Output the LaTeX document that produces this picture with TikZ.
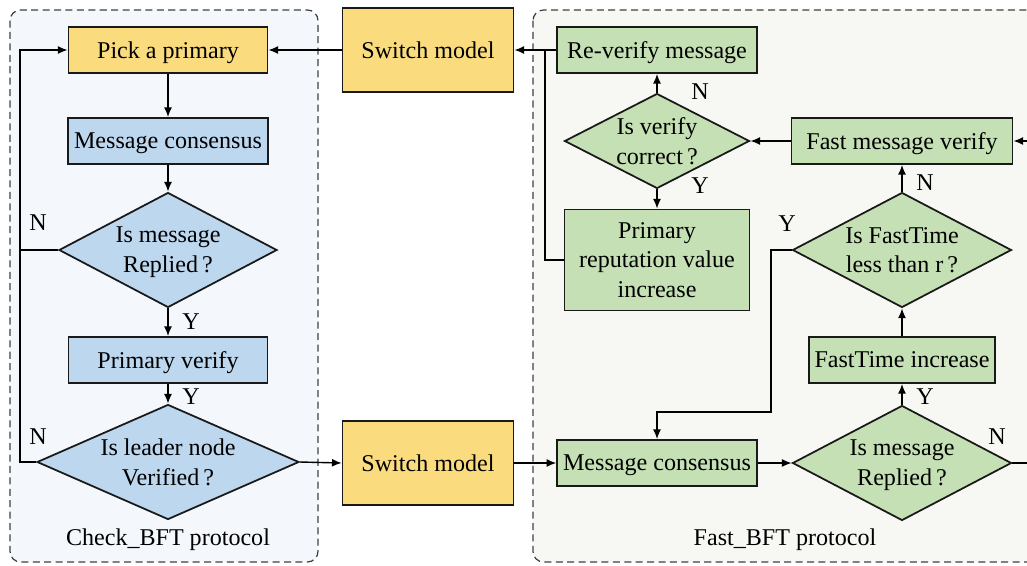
\documentclass[tikz,border=0pt]{standalone}
\usepackage{fontspec}
\setmainfont{Liberation Serif}
\usetikzlibrary{arrows.meta,positioning,shapes.geometric}
\definecolor{pickyellow}{HTML}{FADC7E}
\definecolor{checkblue}{HTML}{BDD7EE}
\definecolor{fastgreen}{HTML}{C5E0B4}
\definecolor{checkbg}{HTML}{F4F8FC}
\definecolor{fastbg}{HTML}{F7F8F4}
\newcommand{\flowfont}{\fontsize{13.7}{17}\selectfont}
\tikzset{%
	panel/.style    = {draw=black!75, line width=0.7pt, dash pattern=on 4pt off 2.5pt, rounded corners=6pt},
	process/.style  = {draw=black!90, line width=1pt, rectangle, minimum width=3.98cm, minimum height=0.92cm, align=center},
	decision/.style = {draw=black!90, line width=1pt, diamond, inner sep=0pt, aspect=1.9, align=center},
	yellowbox/.style = {process, fill=pickyellow},
	bluebox/.style  = {process, fill=checkblue},
	greenbox/.style = {process, fill=fastgreen},
	bluedec/.style  = {decision, fill=checkblue},
	greendec/.style = {decision, fill=fastgreen},
	line/.style     = {line width=0.8pt},
	arrow/.style    = {line width=0.8pt, -{Latex[length=5.5pt,width=4.5pt]}},
}

\begin{document}
\begin{tikzpicture}[x=0.02cm, y=-0.02cm, font=\flowfont, every node/.append style={text depth=0pt}]
	\useasboundingbox (0,0) rectangle (1027,565);
	\clip (0,0) rectangle (1027,565);

	% two protocol panels
	\draw[panel, fill=checkbg] (10,10) rectangle (318,562);
	\draw[panel, fill=fastbg] (533,10) rectangle (1045,562);

	% Check_BFT side
	\node[yellowbox] (pick) at (168,50) {Pick a primary};
	\node[bluebox] (mc1) at (168,141) {Message consensus};
	\node[bluedec, minimum width=4.36cm, minimum height=2.3cm] (rep1) at (168,250) {Is message\\Replied\,?};
	\node[bluebox] (pv) at (168,360) {Primary verify};
	\node[bluedec, aspect=2.28, minimum width=5.24cm, minimum height=2.3cm] (lead) at (168,462) {Is leader node\\Verified\,?};
	\node (chk) at (168,537) {Check\_BFT protocol};

	% switch blocks between the panels
	\node[yellowbox, minimum width=3.42cm, minimum height=1.68cm] (sw1) at (428,50) {Switch model};
	\node[yellowbox, minimum width=3.42cm, minimum height=1.68cm] (sw2) at (428,463) {Switch model};

	% Fast_BFT side
	\node[greenbox, minimum width=4cm] (rever) at (657,50) {Re-verify message};
	\node[greendec, aspect=1.95, minimum width=3.7cm, minimum height=1.9cm] (dver) at (657,141) {Is verify\\correct\,?};
	\node[greenbox, minimum width=3.7cm, minimum height=2.02cm] (prim) at (657,260) {Primary\\reputation value\\increase};
	\node[greenbox, minimum width=4.42cm] (fmv) at (902,141) {Fast message verify};
	\node[greendec, minimum width=4.38cm, minimum height=2.3cm] (dft) at (902,250) {Is FastTime\\less than r\,?};
	\node[greenbox, minimum width=3.68cm] (fti) at (902,360) {FastTime increase};
	\node[greenbox] (mc2) at (657,463) {Message consensus};
	\node[greendec, minimum width=4.38cm, minimum height=2.3cm] (rep2) at (902,463) {Is message\\Replied\,?};
	\node (fst) at (785,537) {Fast\_BFT protocol};

	% corner points of the bent connectors
	\coordinate (lft) at (20,50);
	\coordinate (rl) at (545,50);
	\coordinate (yb) at (771,412);
	\coordinate (outr1) at (1040,141);
	\coordinate (outr2) at (1040,463);

	% Check_BFT connectors
	\draw[arrow] (pick) -- (mc1);
	\draw[arrow] (mc1) -- (rep1);
	\draw[arrow] (rep1) -- (pv);
	\draw[arrow] (pv) -- (lead);
	\draw[line] (rep1.west) -- (rep1.west -| lft);
	\draw[arrow] (lead.west) -| (lft) -- (pick.west);
	\draw[arrow] (lead.east) -- (sw2.west);
	\draw[arrow] (sw1.west) -- (pick.east);

	% Fast_BFT connectors
	\draw[arrow] (sw2.east) -- (mc2.west);
	\draw[arrow] (mc2.east) -- (rep2.west);
	\draw[arrow] (rep2.north) -- (fti.south);
	\draw[arrow] (fti.north) -- (dft.south);
	\draw[arrow] (dft.north) -- (fmv.south);
	\draw[arrow] (dft.west) -| (yb) -| (mc2.north);
	\draw[arrow] (outr1) -- (fmv.east);
	\draw[line] (rep2.east) -- (outr2);
	\draw[arrow] (fmv.west) -- (dver.east);
	\draw[arrow] (dver.north) -- (rever.south);
	\draw[arrow] (dver.south) -- (prim.north);
	\draw[arrow] (rever.west) -- (sw1.east);
	\draw[line] (prim.west) -| (rl);

	% branch labels
	\node (n1) at (38,223) {N};
	\node (n2) at (38,437) {N};
	\node (y1) at (191,322) {Y};
	\node (y2) at (191,397) {Y};
	\node (n3) at (700,92) {N};
	\node (y3) at (700,186) {Y};
	\node (n4) at (925,183) {N};
	\node (y4) at (787,224) {Y};
	\node (y5) at (925,397) {Y};
	\node (n5) at (997,437) {N};
\end{tikzpicture}
\end{document}
